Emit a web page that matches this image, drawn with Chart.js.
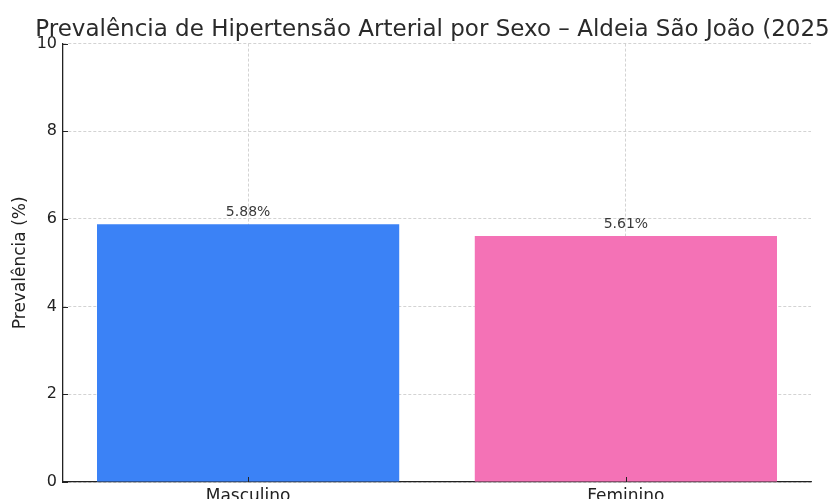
<!DOCTYPE html>
<html>
<head>
<meta charset="utf-8">
<script src="https://cdn.jsdelivr.net/npm/chart.js@4/dist/chart.umd.min.js"></script>
<style>
  html, body { margin: 0; padding: 0; overflow: hidden; background: #fff; }
  #wrap { width: 874px; height: 512px; }
</style>
</head>
<body>
<div id="wrap"><canvas id="grafico" width="874" height="512"></canvas></div>
<script>
// dados do gráfico
const categorias = ['Masculino', 'Feminino'];
const prevalencia = [5.88, 5.61];
const coresBarras = ['#3b82f6', '#f472b6'];
const ticksY = [0, 2, 4, 6, 8, 10];

const FONTE = 'DejaVu Sans';
const COR_TEXTO = '#222222';
const COR_GRADE = '#c8c8c8';
const COR_EIXO = '#222222';

// posição de cada categoria no eixo x (0, 1, ...)
const posicoes = categorias.map(function(c, i) { return i; });

// marquinhas dos ticks viradas pra dentro + valor em cima das barras
const extras = {
    id: 'extras',
    afterDraw(chart) {
        const ctx = chart.ctx;
        const area = chart.chartArea;
        const sx = chart.scales.x;
        const sy = chart.scales.y;
        ctx.save();
        ctx.strokeStyle = COR_EIXO;
        ctx.lineWidth = 1;
        ctx.beginPath();
        ticksY.forEach(function(v) {
            const py = Math.round(sy.getPixelForValue(v)) + 0.5;
            ctx.moveTo(area.left, py);
            ctx.lineTo(area.left + 5, py);
        });
        posicoes.forEach(function(v) {
            const px = Math.round(sx.getPixelForValue(v)) + 0.5;
            ctx.moveTo(px, area.bottom);
            ctx.lineTo(px, area.bottom - 5);
        });
        ctx.stroke();

        const meta = chart.getDatasetMeta(0);
        ctx.font = '14px "' + FONTE + '"';
        ctx.fillStyle = '#3a3a3a';
        ctx.textAlign = 'center';
        ctx.textBaseline = 'alphabetic';
        meta.data.forEach(function(barra, i) {
            ctx.fillText(prevalencia[i].toFixed(2) + '%', barra.x, barra.y - 8);
        });
        ctx.restore();
    }
};

new Chart(document.getElementById('grafico'), {
    type: 'bar',
    data: {
        datasets: [{
            data: posicoes.map(function(p, i) { return { x: p, y: prevalencia[i] }; }),
            backgroundColor: coresBarras,
            borderWidth: 0,
            barPercentage: 0.8,
            categoryPercentage: 1
        }]
    },
    options: {
        responsive: false,
        animation: false,
        layout: { padding: 0 },
        plugins: {
            legend: { display: false },
            tooltip: { enabled: false },
            title: {
                display: true,
                text: 'Prevalência de Hipertensão Arterial por Sexo – Aldeia São João (2025)',
                color: '#2a2a2a',
                font: { family: FONTE, size: 23, weight: 'normal' },
                padding: { top: 16, bottom: 0 }
            }
        },
        scales: {
            x: {
                type: 'linear',
                z: 1,
                min: -0.49,
                max: 1.49,
                offset: false,
                afterBuildTicks(scale) {
                    scale.ticks = posicoes.map(function(v) { return { value: v }; });
                },
                grid: {
                    offset: false,
                    color: COR_GRADE,
                    lineWidth: 0.8,
                    drawTicks: false
                },
                border: { color: COR_EIXO, width: 1.3, dash: [3, 2] },
                ticks: {
                    color: COR_TEXTO,
                    padding: 4,
                    font: { family: FONTE, size: 17 },
                    callback: function(v) { return categorias[v]; }
                },
                afterFit(scale) { scale.height = 30; }
            },
            y: {
                z: 1,
                min: 0,
                max: 10,
                afterBuildTicks(scale) {
                    scale.ticks = ticksY.map(function(v) { return { value: v }; });
                },
                grid: {
                    color: COR_GRADE,
                    lineWidth: 0.8,
                    drawTicks: false
                },
                border: { color: COR_EIXO, width: 1.3, dash: [3, 2] },
                ticks: {
                    color: COR_TEXTO,
                    padding: 6,
                    font: { family: FONTE, size: 16 }
                },
                title: {
                    display: true,
                    text: 'Prevalência (%)',
                    color: COR_TEXTO,
                    font: { family: FONTE, size: 17 },
                    padding: { top: 10, bottom: 0 }
                },
                afterFit(scale) { scale.width = 63; }
            },
            // eixo vazio à direita só pra reservar espaço e deixar o título centrado no canvas
            dir: {
                position: 'right',
                grid: { display: false, drawTicks: false },
                border: { display: false },
                ticks: { display: false },
                afterFit(scale) { scale.width = 63; }
            }
        }
    },
    plugins: [extras]
});
</script>
</body>
</html>
